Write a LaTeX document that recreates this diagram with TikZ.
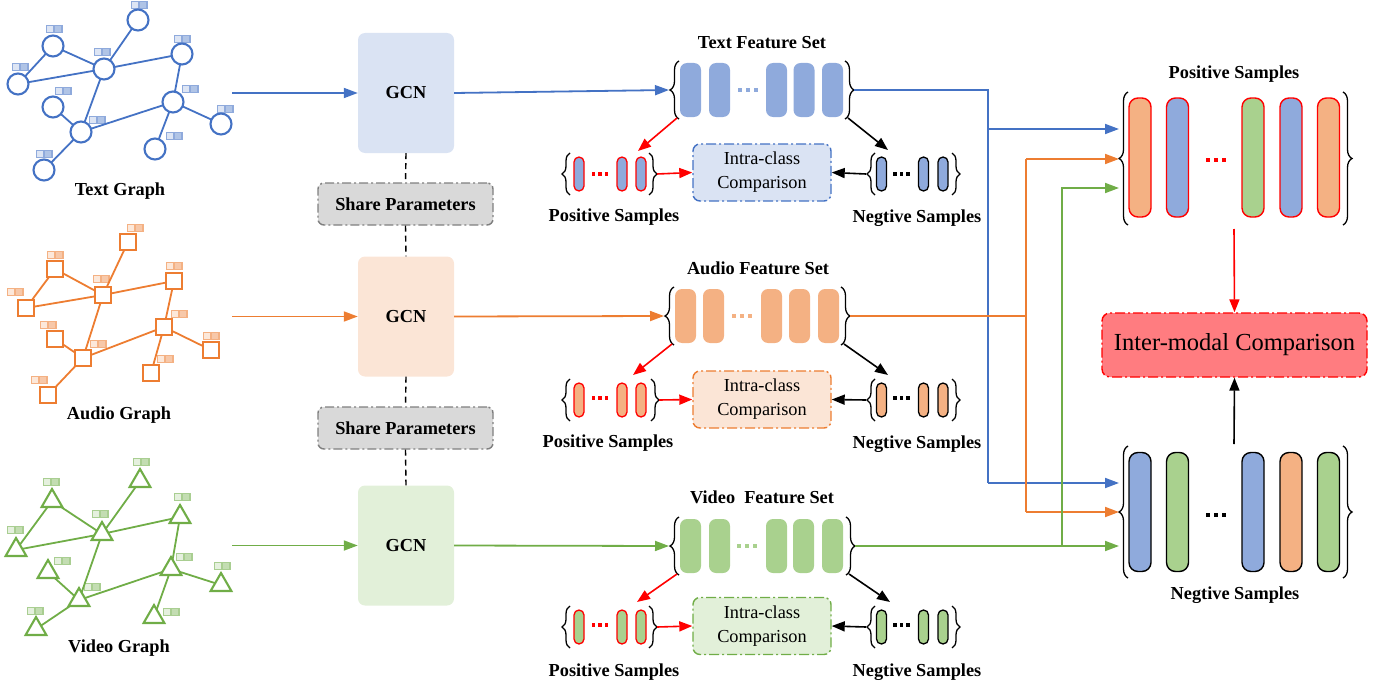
\documentclass[tikz,border=0pt]{standalone}
\usepackage{fontspec}
\setmainfont{Liberation Serif}
\usetikzlibrary{arrows.meta,shapes.geometric,decorations.pathreplacing}
\definecolor{cblue}{HTML}{4472C4}
\definecolor{corange}{HTML}{ED7D31}
\definecolor{cgreen}{HTML}{70AD47}
\definecolor{pblue}{HTML}{8FAADC}
\definecolor{porange}{HTML}{F4B183}
\definecolor{pgreen}{HTML}{A9D18E}
\definecolor{lblue}{HTML}{DAE3F3}
\definecolor{lorange}{HTML}{FBE5D6}
\definecolor{lgreen}{HTML}{E2F0D9}
\definecolor{interred}{HTML}{FF7C80}
\definecolor{cred}{HTML}{FF0000}
\definecolor{sgray}{HTML}{D9D9D9}
\definecolor{sborder}{HTML}{7F7F7F}
\newcommand{\flab}[3]{\begin{scope}[shift={(#1,#2)}]
 \fill[#3!60] (-8.5,-3.8) rectangle (8.5,3.8);
 \fill[#3!18] (-7.3,-2.6) rectangle (-0.6,2.6);
 \fill[#3!42] (0.6,-2.6) rectangle (7.3,2.6);
\end{scope}}
\newcommand{\tdots}[5]{\foreach \k in {-1,0,1} \fill[#3] ({#1+\k*#4-#5/2},{#2-#5/2}) rectangle ++(#5,#5);}
\begin{document}
\begin{tikzpicture}[x=1pt,y=-1pt,
  lbl/.style={font=\fontsize{18.3}{20}\selectfont\bfseries, inner sep=0},
  gnode/.style={line width=2.1pt, fill=white, inner sep=0, outer sep=0},
  tnode/.style={gnode, draw=cblue, circle, minimum size=21pt},
  anode/.style={gnode, draw=corange, rectangle, minimum size=16pt},
  vnode/.style={gnode, draw=cgreen, regular polygon, regular polygon sides=3, minimum size=24pt},
  gedge/.style={line width=1.8pt},
  gcnbox/.style={rounded corners=7pt, minimum width=96pt, minimum height=120pt, inner sep=0, font=\fontsize{18.3}{20}\selectfont\bfseries},
  sharebox/.style={draw=sborder, fill=sgray, rounded corners=6pt, minimum width=175pt, minimum height=42pt, line width=1.4pt, dash pattern=on 9pt off 3pt on 2pt off 3pt, font=\fontsize{18.3}{20}\selectfont\bfseries},
  fpill/.style={rounded corners=7pt, minimum width=21pt, minimum height=54pt, inner sep=0, outer sep=0},
  spill/.style={rounded corners=5pt, minimum width=10pt, minimum height=34pt, inner sep=0, line width=1.3pt},
  bpill/.style={rounded corners=9pt, minimum width=22pt, minimum height=119pt, inner sep=0, line width=1.4pt},
  intra/.style={rounded corners=7pt, minimum width=138pt, minimum height=57pt, line width=1.4pt, dash pattern=on 10pt off 3pt on 2pt off 3pt, align=center, font=\fontsize{18.3}{24}\selectfont, inner sep=0},
  brc/.style={decorate, decoration={brace, amplitude=9pt}, line width=1.3pt},
  sbrc/.style={decorate, decoration={brace, amplitude=8pt}, line width=1.3pt},
  arr/.style={-{Triangle[length=14pt,width=10pt]}, line width=1.8pt},
  sarr/.style={-{Triangle[length=13pt,width=10pt]}, line width=1.6pt},
  dashln/.style={dash pattern=on 6pt off 4pt, line width=1.4pt}
]
\useasboundingbox (0,0) rectangle (1384,685);

% ================= Text graph =================
\foreach \x/\y in {139/5, 54/29, 102/52, 182/39, 20/67, 63/91, 190/89, 97/120, 225/109, 174/136, 44/154} {\flab{\x}{\y}{cblue}}
\foreach \n/\x/\y in {1/138/20, 2/53/46, 3/104/69, 4/182/54, 5/18/84, 6/53/107, 7/173/102, 8/81/132, 9/221/124, 10/155/149, 11/44/170}
  \node[tnode] (t\n) at (\x,\y) {};
\foreach \a/\b in {2/5,2/3,5/3,3/1,3/4,3/8,6/8,8/11,8/7,4/7,7/9,7/10} \draw[gedge, cblue] (t\a) -- (t\b);
\node[lbl] (tg) at (120,191) {Text Graph};

% ================= Audio graph =================
\foreach \x/\y in {135/228, 55/255, 101/279, 174/266, 15/292, 48/325, 179/314, 98/344, 211/336, 165/359, 39/380} {\flab{\x}{\y}{corange}}
\foreach \n/\x/\y in {1/128/242, 2/55/269, 3/103/295, 4/174/281, 5/26/308, 6/55/339, 7/164/327, 8/83/358, 9/211/350, 10/151/373, 11/48/395}
  \node[anode] (a\n) at (\x,\y) {};
\foreach \a/\b in {2/5,2/3,5/3,3/1,3/4,3/8,6/8,8/11,8/7,4/7,7/9,7/10} \draw[gedge, corange] (a\a) -- (a\b);
\node[lbl] (ag) at (119,415) {Audio Graph};

% ================= Video graph =================
\foreach \x/\y in {141/462, 51/482, 100/514, 182/497, 15/530, 62/561, 184/557, 92/587, 222/566, 171/612, 35/611} {\flab{\x}{\y}{cgreen}}
\foreach \n/\x/\y in {1/140/481, 2/52/501, 3/102/534, 4/180/517, 5/16/550, 6/48/572, 7/171/569, 8/79/600, 9/221/585, 10/154/617, 11/36/629}
  \node[vnode] (v\n) at (\x,\y) {};
\foreach \a/\b in {2/5,2/3,5/3,3/1,3/4,3/8,6/8,8/11,8/7,4/7,7/9,7/10} \draw[gedge, cgreen] (v\a) -- (v\b);
\node[lbl] (vg) at (119,648) {Video Graph};

% ================= GCN column =================
\node[gcnbox, fill=lblue] (gcn1) at (406,93) {GCN};
\node[gcnbox, fill=lorange] (gcn2) at (406,316.5) {GCN};
\node[gcnbox, fill=lgreen] (gcn3) at (406,545.5) {GCN};
\node[sharebox] (sp1) at (405.5,204) {Share Parameters};
\node[sharebox] (sp2) at (405.5,428) {Share Parameters};
\draw[dashln] (gcn1.south) -- (sp1.north);
\draw[dashln] (sp1.south) -- (gcn2.north);
\draw[dashln] (gcn2.south) -- (sp2.north);
\draw[dashln] (sp2.south) -- (gcn3.north);

\coordinate (tin) at (232,93);
\coordinate (ain) at (232,316.5);
\coordinate (vin) at (232,545.5);
\draw[arr, cblue] (tin) -- (gcn1.west);
\draw[arr, corange] (ain) -- (gcn2.west);
\draw[arr, cgreen] (vin) -- (gcn3.west);

% ================= Feature sets =================
% text
\node[lbl] (tfl) at (762,43) {Text Feature Set};
\foreach \i/\x in {1/690.5,2/719.5,3/776.5,4/804,5/832.5} \node[fpill, fill=pblue] (tf\i) at (\x,90) {};
\tdots{747.5}{90}{pblue}{8}{4}
\draw[brc] (679,119) -- (679,61);
\draw[brc] (845,61) -- (845,119);
\coordinate (tfL) at (669,90);
\coordinate (tfR) at (854,90);
\coordinate (tfLB) at (677,118);
\coordinate (tfRB) at (848,118);
\draw[arr, cblue] (gcn1.east) -- (tfL);

% audio
\node[lbl] (afl) at (758,268) {Audio Feature Set};
\foreach \i/\x in {1/685.5,2/713.5,3/771.5,4/799.5,5/828.5} \node[fpill, fill=porange] (af\i) at (\x,316) {};
\tdots{742}{316}{porange}{8}{4}
\draw[brc] (674,345) -- (674,287);
\draw[brc] (841,287) -- (841,345);
\coordinate (afL) at (664,316);
\coordinate (afR) at (850,316);
\coordinate (afLB) at (672,344);
\coordinate (afRB) at (844,344);
\draw[arr, corange] (gcn2.east) -- (afL);

% video
\node[lbl] (vfl) at (762,497) {Video\ \ Feature Set};
\foreach \i/\x in {1/690.5,2/719.5,3/776.5,4/803.5,5/832.5} \node[fpill, fill=pgreen] (vf\i) at (\x,546) {};
\tdots{746.5}{546}{pgreen}{8}{4}
\draw[brc] (679,575) -- (679,517);
\draw[brc] (846,517) -- (846,575);
\coordinate (vfL) at (669,546);
\coordinate (vfR) at (855,546);
\coordinate (vfLB) at (677,574);
\coordinate (vfRB) at (849,574);
\draw[arr, cgreen] (gcn3.east) -- (vfL);

% ================= Intra-class rows =================
% --- text row
\foreach \i/\x in {1/579,2/622,3/641} \node[spill, draw=cred, fill=pblue] (tp\i) at (\x,174) {};
\tdots{600}{174}{cred}{6.5}{3.8}
\draw[sbrc] (570,195) -- (570,153);
\draw[sbrc] (649,153) -- (649,195);
\coordinate (tpT) at (638,151);
\coordinate (tpR) at (657,174);
\foreach \i/\x in {1/881.5,2/923.5,3/943} \node[spill, draw=black, fill=pblue] (tn\i) at (\x,174) {};
\tdots{901.5}{174}{black}{6.5}{3.8}
\draw[sbrc] (875,195) -- (875,153);
\draw[sbrc] (952,153) -- (952,195);
\coordinate (tnT) at (888,150);
\coordinate (tnL) at (866,174);
\node[intra, draw=cblue, fill=lblue] (ti) at (762,172.5) {Intra-class\\Comparison};
\draw[sarr, cred] (tfLB) -- (tpT);
\draw[sarr, black] (tfRB) -- (tnT);
\draw[sarr, cred] (tpR) -- (ti.west);
\draw[sarr, black] (tnL) -- (ti.east);
\node[lbl] (tpl) at (614,217) {Positive Samples};
\node[lbl] (tnl) at (917,218) {Negtive Samples};

% --- audio row
\foreach \i/\x in {1/579,2/622,3/641} \node[spill, draw=cred, fill=porange] (ap\i) at (\x,400) {};
\tdots{600}{398}{cred}{6.5}{3.8}
\draw[sbrc] (570,421) -- (570,379);
\draw[sbrc] (651,379) -- (651,421);
\coordinate (apT) at (633,375);
\coordinate (apR) at (659,400);
\foreach \i/\x in {1/881.5,2/923.5,3/943} \node[spill, draw=black, fill=porange] (an\i) at (\x,400) {};
\tdots{901.5}{398}{black}{6.5}{3.8}
\draw[sbrc] (875,421) -- (875,379);
\draw[sbrc] (952,379) -- (952,421);
\coordinate (anT) at (888,375);
\coordinate (anL) at (866,400);
\node[intra, draw=corange, fill=lorange] (ai) at (762,399.5) {Intra-class\\Comparison};
\draw[sarr, cred] (afLB) -- (apT);
\draw[sarr, black] (afRB) -- (anT);
\draw[sarr, cred] (apR) -- (ai.west);
\draw[sarr, black] (anL) -- (ai.east);
\node[lbl] (apl) at (608,443) {Positive Samples};
\node[lbl] (anl) at (917,444) {Negtive Samples};

% --- video row
\foreach \i/\x in {1/579,2/622,3/641} \node[spill, draw=cred, fill=pgreen] (vp\i) at (\x,627) {};
\tdots{600}{625}{cred}{6.5}{3.8}
\draw[sbrc] (570,648) -- (570,606);
\draw[sbrc] (649,606) -- (649,648);
\coordinate (vpT) at (637,602);
\coordinate (vpR) at (657,627);
\foreach \i/\x in {1/881.5,2/923.5,3/943} \node[spill, draw=black, fill=pgreen] (vn\i) at (\x,627) {};
\tdots{901.5}{625}{black}{6.5}{3.8}
\draw[sbrc] (875,648) -- (875,606);
\draw[sbrc] (952,606) -- (952,648);
\coordinate (vnT) at (890,602);
\coordinate (vnL) at (866,627);
\node[intra, draw=cgreen, fill=lgreen] (vi) at (762,626) {Intra-class\\Comparison};
\draw[sarr, cred] (vfLB) -- (vpT);
\draw[sarr, black] (vfRB) -- (vnT);
\draw[sarr, cred] (vpR) -- (vi.west);
\draw[sarr, black] (vnL) -- (vi.east);
\node[lbl] (vpl) at (614,672) {Positive Samples};
\node[lbl] (vnl) at (917,672) {Negtive Samples};

% ================= Right: positive / negative samples =================
\node[lbl] (psl) at (1234,74) {Positive Samples};
\foreach \i/\x/\c in {1/1140/porange,2/1177.5/pblue,3/1253/pgreen,4/1291/pblue,5/1328.5/porange}
  \node[bpill, draw=cred, fill=\c] (ps\i) at (\x,157.5) {};
\tdots{1216}{160}{cred}{8}{4.5}
\draw[brc] (1128,225) -- (1128,92);
\draw[brc] (1343,92) -- (1343,225);
\coordinate (psB) at (1234,229);

\node[lbl] (nsl) at (1235,595) {Negtive Samples};
\foreach \i/\x/\c in {1/1140/pblue,2/1177.5/pgreen,3/1253/pblue,4/1291/porange,5/1328.5/pgreen}
  \node[bpill, draw=black, fill=\c] (ns\i) at (\x,512) {};
\tdots{1216}{515}{black}{8}{4.5}
\draw[brc] (1128,578) -- (1128,446);
\draw[brc] (1343,446) -- (1343,578);
\coordinate (nsT) at (1234,444);

\node[draw=cred, fill=interred, rounded corners=8pt, minimum width=265pt, minimum height=64pt, line width=1.4pt, dash pattern=on 10pt off 3pt on 2pt off 3pt, font=\fontsize{24.5}{28}\selectfont] (inter) at (1234.5,345) {Inter-modal Comparison};
\draw[sarr, cred] (psB) -- (inter.north);
\draw[sarr, black] (nsT) -- (inter.south);

% ================= Routing =================
\coordinate (bx1) at (988,90);
\coordinate (bx2) at (988,129);
\coordinate (bx3) at (988,483);
\coordinate (psb) at (1119,129);
\coordinate (nsb) at (1119,483);
\draw[cblue, line width=1.8pt] (tfR) -- (bx1) -- (bx3);
\draw[arr, cblue] (bx2) -- (psb);
\draw[arr, cblue] (bx3) -- (nsb);

\coordinate (ox1) at (1026,316);
\coordinate (ox2) at (1026,159);
\coordinate (ox3) at (1026,512);
\coordinate (pso) at (1119,159);
\coordinate (nso) at (1119,512);
\draw[corange, line width=1.8pt] (afR) -- (ox1);
\draw[corange, line width=1.8pt] (ox2) -- (ox3);
\draw[arr, corange] (ox2) -- (pso);
\draw[arr, corange] (ox3) -- (nso);

\coordinate (gx1) at (1062,546);
\coordinate (gx2) at (1062,188);
\coordinate (psg) at (1119,188);
\coordinate (nsg) at (1119,546);
\draw[arr, cgreen] (vfR) -- (nsg);
\draw[arr, cgreen] (gx1) -- (gx2) -- (psg);
\end{tikzpicture}
\end{document}
